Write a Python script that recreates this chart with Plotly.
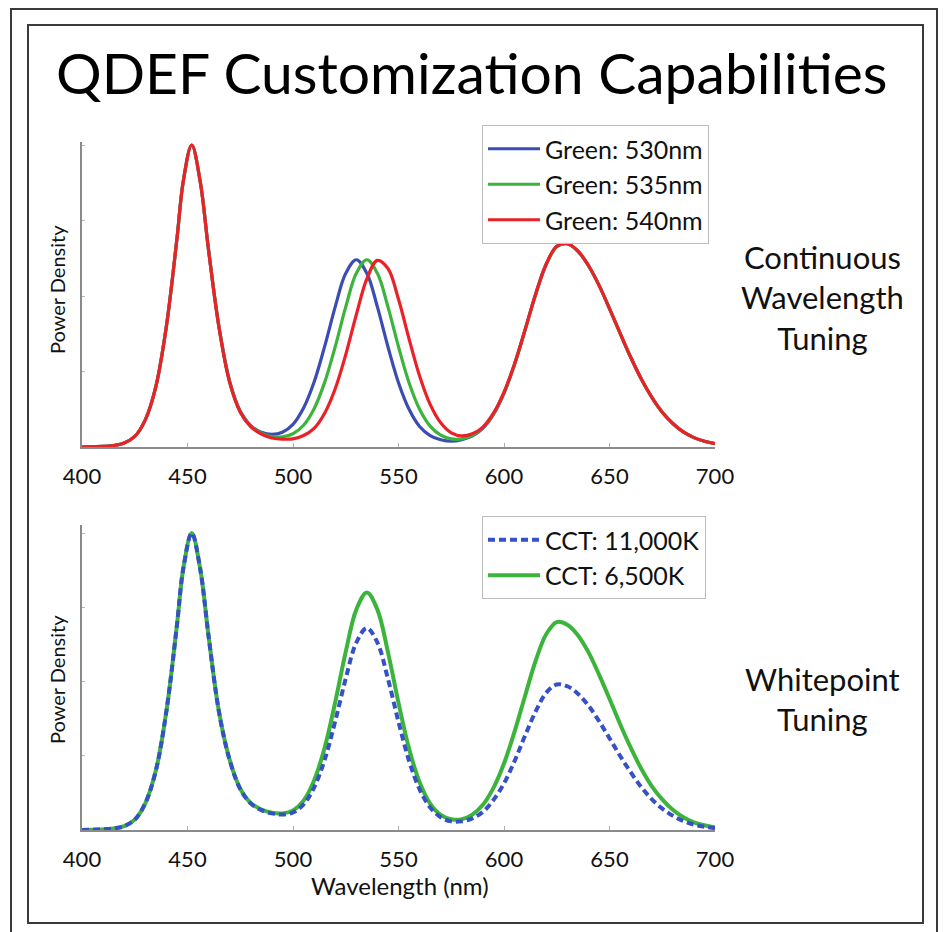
import plotly.graph_objects as go

# ---------------- data ----------------
# wavelength grid (nm): 5 nm steps, denser around the blue LED peak
wavelength = [400, 405, 410, 415, 420, 425, 430, 435, 440, 445,
              448, 452, 456,
              460, 465, 470, 475, 480, 485, 490, 495,
              500, 505, 510, 515, 520, 525, 530, 535, 540, 545,
              550, 555, 560, 565, 570, 575, 580, 585, 590, 595,
              600, 605, 610, 615, 620, 625, 630, 635, 640, 645,
              650, 655, 660, 665, 670, 675, 680, 685, 690, 695,
              700]

green_530 = [
    0, 0.001, 0.002, 0.005, 0.013, 0.035, 0.09, 0.20, 0.40, 0.69,
    0.88, 1.0, 0.88,
    0.652, 0.395, 0.217, 0.119, 0.071, 0.049, 0.042, 0.049,
    0.075, 0.129, 0.215, 0.333, 0.464, 0.575, 0.620, 0.575, 0.464, 0.332,
    0.213, 0.125, 0.068, 0.038, 0.024, 0.019, 0.024, 0.037, 0.062, 0.108,
    0.178, 0.273, 0.387, 0.505, 0.604, 0.664, 0.673, 0.649, 0.601, 0.536,
    0.458, 0.377, 0.298, 0.226, 0.165, 0.115, 0.078, 0.050, 0.031, 0.019,
    0.011]

green_535 = [
    0, 0.001, 0.002, 0.005, 0.013, 0.035, 0.09, 0.20, 0.40, 0.69,
    0.88, 1.0, 0.88,
    0.651, 0.394, 0.215, 0.117, 0.069, 0.046, 0.034, 0.034,
    0.044, 0.072, 0.127, 0.214, 0.332, 0.464, 0.575, 0.620, 0.575, 0.464,
    0.332, 0.213, 0.125, 0.069, 0.039, 0.027, 0.027, 0.039, 0.064, 0.110,
    0.179, 0.274, 0.388, 0.506, 0.605, 0.664, 0.673, 0.649, 0.601, 0.536,
    0.458, 0.377, 0.298, 0.226, 0.165, 0.115, 0.078, 0.050, 0.031, 0.019,
    0.011]

green_540 = [
    0, 0.001, 0.002, 0.005, 0.013, 0.035, 0.09, 0.20, 0.40, 0.69,
    0.88, 1.0, 0.88,
    0.650, 0.392, 0.213, 0.115, 0.067, 0.043, 0.030, 0.026,
    0.027, 0.038, 0.062, 0.112, 0.193, 0.306, 0.438, 0.557, 0.618, 0.591,
    0.489, 0.358, 0.235, 0.141, 0.080, 0.047, 0.037, 0.044, 0.066, 0.112,
    0.182, 0.276, 0.389, 0.507, 0.606, 0.665, 0.673, 0.649, 0.601, 0.536,
    0.458, 0.377, 0.298, 0.226, 0.165, 0.115, 0.078, 0.050, 0.031, 0.019,
    0.011]

cct_6500 = [
    0, 0.001, 0.002, 0.005, 0.013, 0.035, 0.09, 0.20, 0.40, 0.69,
    0.88, 1.0, 0.88,
    0.652, 0.395, 0.236, 0.139, 0.091, 0.069, 0.058, 0.056,
    0.066, 0.099, 0.167, 0.277, 0.430, 0.600, 0.742, 0.800, 0.742, 0.599,
    0.428, 0.274, 0.161, 0.089, 0.051, 0.036, 0.036, 0.052, 0.085, 0.142,
    0.224, 0.331, 0.452, 0.570, 0.659, 0.700, 0.691, 0.656, 0.599, 0.524,
    0.442, 0.357, 0.278, 0.207, 0.148, 0.103, 0.068, 0.043, 0.026, 0.016,
    0.009]

cct_11000 = [
    0, 0.001, 0.002, 0.005, 0.013, 0.035, 0.09, 0.20, 0.40, 0.69,
    0.88, 1.0, 0.88,
    0.652, 0.394, 0.235, 0.138, 0.089, 0.067, 0.056, 0.052,
    0.059, 0.086, 0.143, 0.236, 0.366, 0.510, 0.631, 0.680, 0.631, 0.509,
    0.364, 0.233, 0.137, 0.076, 0.043, 0.029, 0.029, 0.039, 0.061, 0.101,
    0.157, 0.232, 0.318, 0.399, 0.462, 0.490, 0.484, 0.459, 0.419, 0.367,
    0.309, 0.250, 0.195, 0.145, 0.104, 0.072, 0.048, 0.030, 0.018, 0.011,
    0.006]

x_ticks = [400, 450, 500, 550, 600, 650, 700]
x_tick_labels = ["400", "450", "500", "550", "600", "650", "700"]

# ---------------- styling ----------------
W, H = 943, 932
FONT = "Lato"
BLUE = "#3b4db2"
GREEN = "#3cb43c"
RED = "#ea2228"
DASH_BLUE = "#3650c6"
AXIS = "#8a8a8a"


def px_x(p):
    return p / W


def px_y(p):
    return (H - p) / H


fig = go.Figure()

top_series = [("Green: 530nm", green_530, BLUE),
              ("Green: 535nm", green_535, GREEN),
              ("Green: 540nm", green_540, RED)]
for name, ys, col in top_series:
    fig.add_trace(go.Scatter(x=wavelength, y=ys, name=name, mode="lines",
                             line=dict(color=col, width=3.2, shape="spline"),
                             xaxis="x", yaxis="y", legend="legend"))

fig.add_trace(go.Scatter(x=wavelength, y=cct_6500, name="CCT: 6,500K", mode="lines",
                         line=dict(color=GREEN, width=4, shape="spline"),
                         xaxis="x2", yaxis="y2", legend="legend2", legendrank=2))
fig.add_trace(go.Scatter(x=wavelength, y=cct_11000, name="CCT: 11,000K", mode="lines",
                         line=dict(color=DASH_BLUE, width=4, shape="spline", dash="7px,4px"),
                         xaxis="x2", yaxis="y2", legend="legend2", legendrank=1))

xdom = [px_x(82), px_x(715)]
axis_common = dict(showline=True, linecolor=AXIS, linewidth=1.5, showgrid=False,
                   zeroline=False, fixedrange=True, automargin=False)
xcommon = dict(axis_common, range=[400, 700], tickvals=x_ticks, ticktext=x_tick_labels,
               ticks="inside", ticklen=4, tickcolor="#b0b0b0", ticklabelstandoff=9,
               tickfont=dict(family=FONT, size=22, color="#111111"), domain=xdom)
ycommon = dict(axis_common, showticklabels=False, ticks="inside", ticklen=3,
               tickcolor="#b8b8b8", dtick=0.25)

legend_common = dict(bgcolor="rgba(255,255,255,0.9)", bordercolor="#bdbdbd", borderwidth=1,
                     font=dict(family=FONT, size=25, color="#111111"),
                     xanchor="left", yanchor="top", itemwidth=52,
                     traceorder="normal")

annotations = [
    dict(text="QDEF Customization Capabilities", x=px_x(472), y=px_y(72),
         font=dict(family=FONT, size=57, color="#000000")),
    dict(text="Continuous<br>Wavelength<br>Tuning", x=px_x(822), y=px_y(297),
         font=dict(family=FONT, size=31, color="#111111")),
    dict(text="Whitepoint<br>Tuning", x=px_x(822), y=px_y(699),
         font=dict(family=FONT, size=31, color="#111111")),
    dict(text="Power Density", x=px_x(57), y=px_y(290), textangle=-90,
         font=dict(family=FONT, size=20, color="#111111")),
    dict(text="Power Density", x=px_x(57), y=px_y(680), textangle=-90,
         font=dict(family=FONT, size=20, color="#111111")),
    dict(text="Wavelength (nm)", x=px_x(400), y=px_y(885),
         font=dict(family=FONT, size=24, color="#111111")),
]
for a in annotations:
    a.update(xref="paper", yref="paper", showarrow=False, xanchor="center", yanchor="middle")

shapes = [
    dict(type="rect", xref="paper", yref="paper", x0=px_x(11), x1=px_x(937),
         y0=px_y(960), y1=px_y(9), line=dict(color="#3a3a3a", width=2)),
    dict(type="rect", xref="paper", yref="paper", x0=px_x(28), x1=px_x(923),
         y0=px_y(923), y1=px_y(25), line=dict(color="#3a3a3a", width=2)),
]

fig.update_layout(
    template="none",
    width=W, height=H, autosize=False,
    margin=dict(l=0, r=0, t=0, b=0, pad=0, autoexpand=False),
    paper_bgcolor="white", plot_bgcolor="white",
    xaxis=dict(xcommon, anchor="y"),
    yaxis=dict(ycommon, domain=[px_y(447), px_y(142)], range=[0, 1.01], anchor="x"),
    xaxis2=dict(xcommon, anchor="y2"),
    yaxis2=dict(ycommon, domain=[px_y(830), px_y(525)], range=[0, 1.027], anchor="x2"),
    legend=dict(legend_common, x=px_x(482), y=px_y(125)),
    legend2=dict(legend_common, x=px_x(482), y=px_y(516)),
    annotations=annotations,
    shapes=shapes,
    showlegend=True,
)

fig.write_html("out.html")
